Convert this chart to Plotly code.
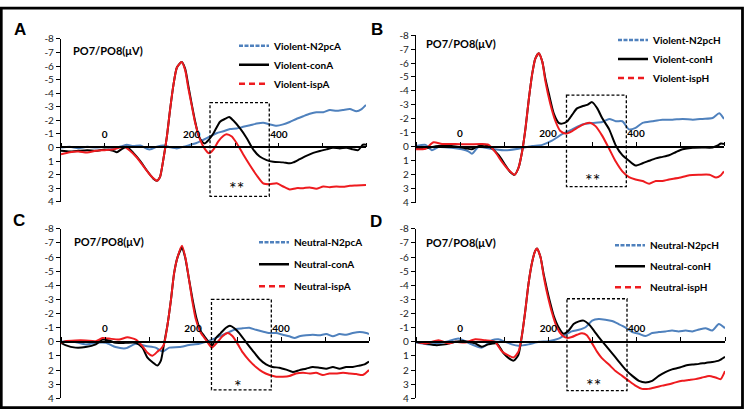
import plotly.graph_objects as go

# ---------------- data (time in ms, amplitude in µV) ----------------
x_tick_vals = [-100, 0, 100, 200, 300, 400, 500, 600]
x_tick_text = ["", "0", "", "200", "", "400", "", ""]
y_tick_vals = [-8, -7, -6, -5, -4, -3, -2, -1, 0, 1, 2, 3, 4]
y_tick_text = ["-8", "-7", "-6", "-5", "-4", "-3", "-2", "-1", "0", "1", "2", "3", "4"]

panel_letters = ["A", "B", "C", "D"]
legend_names = [
    ["Violent-N2pcA", "Violent-conA", "Violent-ispA"],
    ["Violent-N2pcH", "Violent-conH", "Violent-ispH"],
    ["Neutral-N2pcA", "Neutral-conA", "Neutral-ispA"],
    ["Neutral-N2pcH", "Neutral-conH", "Neutral-ispH"],
]
stars = ["**", "**", "*", "**"]
window_ms = [242, 378]

# Panel A
a_n2pc_t = [-100, -80, -60, -40, -20, 0, 20, 40, 51, 66, 82, 97, 105, 120, 135, 150, 166, 181, 197, 211, 227, 242, 257, 273, 288, 303, 318, 334, 349, 364, 379, 395, 410, 425, 440, 456, 471, 486, 502, 517, 532, 547, 563, 578, 590, 600]
a_n2pc_v = [0.0, -0.05, 0.05, -0.05, 0.0, -0.05, 0.05, -0.1, -0.2, -0.1, -0.15, 0.1, 0.14, -0.05, -0.15, -0.02, 0.07, -0.05, -0.2, -0.33, -0.57, -0.81, -1.05, -1.2, -1.36, -1.4, -1.52, -1.64, -1.76, -1.83, -1.7, -1.6, -1.7, -1.88, -2.1, -2.3, -2.48, -2.6, -2.6, -2.76, -2.7, -2.76, -2.83, -2.67, -2.83, -3.14]
a_con_t = [-100, -80, -60, -40, -20, 0, 20, 28, 40, 51, 66, 82, 97, 112, 120, 127, 135, 143, 150, 158, 166, 177, 185, 192, 200, 208, 215, 223, 230, 240, 250, 265, 276, 286, 295, 311, 326, 341, 356, 372, 387, 410, 425, 433, 448, 463, 479, 494, 509, 524, 540, 555, 570, 582, 593, 600]
a_con_v = [0.25, 0.3, 0.25, 0.2, 0.25, 0.15, 0.25, 0.35, 0.1, -0.05, 0.4, 1.0, 1.7, 2.3, 2.45, 2.2, 0.86, -0.8, -2.7, -4.6, -5.9, -6.3, -5.8, -4.6, -3.2, -1.9, -0.95, -0.45, -0.3, -0.6, -1.05, -1.9, -2.1, -2.24, -2.0, -1.4, -0.7, 0.14, 0.67, 0.93, 1.05, 1.1, 1.17, 1.1, 0.86, 0.62, 0.4, 0.26, 0.14, 0.02, 0.07, 0.02, 0.14, 0.2, -0.2, -0.2]
a_isp_t = [-100, -80, -60, -40, -20, 0, 21, 44, 59, 74, 89, 105, 120, 127, 135, 143, 150, 158, 166, 177, 185, 192, 200, 208, 219, 230, 240, 250, 261, 273, 280, 292, 303, 318, 334, 349, 364, 379, 395, 410, 425, 440, 456, 471, 486, 502, 517, 532, 547, 563, 578, 600]
a_isp_v = [0.5, 0.35, 0.3, 0.38, 0.25, 0.2, 0.14, -0.05, 0.26, 0.74, 1.38, 2.05, 2.45, 2.2, 0.86, -0.8, -2.7, -4.6, -5.9, -6.3, -5.7, -4.4, -3.1, -1.8, -0.6, 0.1, 0.43, 0.14, -0.45, -0.86, -0.98, -0.81, -0.33, 0.5, 1.33, 2.05, 2.64, 2.71, 2.64, 2.88, 3.1, 3.0, 3.0, 2.95, 3.05, 2.88, 2.93, 2.88, 2.9, 2.83, 2.8, 2.76]

# Panel B
b_n2pc_t = [-100, -78, -64, -49, -19, 4, 19, 27, 42, 72, 103, 133, 164, 187, 209, 232, 255, 278, 300, 323, 339, 354, 369, 384, 399, 415, 437, 460, 483, 506, 529, 551, 574, 589, 600]
b_n2pc_v = [-0.05, -0.14, 0.25, 0.02, 0.07, 0.18, 0.32, 0.5, 0.02, 0.14, 0.25, 0.14, -0.05, -0.14, -0.44, -0.9, -1.25, -1.6, -1.71, -1.78, -2.0, -1.83, -1.83, -1.25, -1.36, -1.71, -1.83, -1.94, -1.94, -2.0, -1.94, -2.0, -2.06, -2.4, -2.0]
b_con_t = [-100, -78, -49, -19, 12, 27, 42, 57, 72, 88, 103, 114, 124, 133, 141, 149, 156, 164, 171, 179, 187, 194, 202, 213, 225, 232, 244, 255, 266, 278, 289, 300, 312, 323, 339, 354, 369, 384, 399, 415, 430, 445, 460, 475, 491, 506, 529, 551, 574, 586, 593, 600]
b_con_v = [0.14, 0.1, -0.05, -0.05, 0.1, 0.18, -0.05, -0.14, 0.1, 0.6, 1.3, 1.8, 2.0, 1.5, 0.37, -1.36, -3.3, -5.2, -6.3, -6.7, -6.1, -4.9, -3.8, -2.4, -1.7, -1.66, -1.83, -2.3, -2.75, -2.9, -3.0, -3.2, -2.75, -2.06, -1.25, -0.1, 0.6, 1.0, 1.34, 1.18, 1.0, 0.83, 0.72, 0.6, 0.37, 0.18, 0.07, 0.05, 0.05, -0.1, -0.23, -0.2]
b_isp_t = [-100, -79, -60, -41, -11, 19, 50, 65, 80, 95, 110, 124, 133, 141, 149, 156, 164, 171, 179, 187, 194, 205, 217, 228, 240, 255, 270, 285, 297, 308, 323, 339, 354, 369, 384, 399, 415, 430, 445, 460, 475, 498, 521, 544, 567, 582, 593, 600]
b_isp_v = [0.18, 0.14, -0.32, -0.2, -0.2, -0.18, -0.2, -0.14, 0.37, 1.06, 1.64, 2.0, 1.5, 0.37, -1.36, -3.3, -5.2, -6.3, -6.7, -6.1, -4.7, -3.1, -1.83, -1.13, -0.95, -1.13, -1.43, -1.66, -1.71, -1.48, -0.8, 0.14, 1.06, 1.76, 2.17, 2.34, 2.45, 2.64, 2.45, 2.45, 2.34, 2.22, 2.03, 2.0, 2.0, 2.2, 2.03, 1.76]

# Panel C
c_n2pc_t = [-100, -75, -44, -21, 2, 24, 47, 70, 93, 115, 131, 146, 169, 191, 214, 237, 260, 282, 298, 313, 328, 343, 358, 374, 389, 404, 419, 431, 442, 457, 472, 487, 503, 518, 533, 548, 563, 579, 594, 600]
c_n2pc_v = [0.0, -0.05, 0.18, 0.07, 0.07, 0.37, 0.46, 0.14, 0.3, 0.41, 0.69, 0.41, 0.37, 0.23, 0.14, -0.09, -0.39, -0.69, -0.91, -0.96, -1.0, -0.85, -0.73, -0.62, -0.62, -0.5, -0.39, -0.27, -0.39, -0.46, -0.5, -0.46, -0.55, -0.39, -0.55, -0.5, -0.62, -0.69, -0.62, -0.55]
c_con_t = [-100, -90, -67, -44, -21, -6, 9, 24, 47, 70, 85, 96, 108, 119, 127, 134, 142, 150, 157, 165, 175, 182, 190, 199, 208, 218, 229, 243, 252, 263, 275, 284, 294, 305, 320, 336, 351, 366, 381, 396, 412, 427, 442, 457, 472, 487, 503, 518, 533, 548, 563, 579, 590, 600]
c_con_v = [0.07, 0.23, 0.41, 0.37, 0.18, -0.16, -0.1, 0.07, 0.07, 0.07, 0.41, 1.1, 1.44, 1.67, 1.33, 0.18, -1.19, -3.0, -4.85, -6.0, -6.67, -6.0, -4.6, -3.0, -1.65, -0.73, -0.27, 0.3, -0.27, -0.62, -1.0, -1.14, -0.96, -0.62, 0.0, 0.64, 1.21, 1.6, 1.78, 1.83, 1.97, 2.13, 2.0, 1.9, 1.78, 1.83, 1.9, 1.78, 1.9, 1.78, 1.78, 1.67, 1.6, 1.4]
c_isp_t = [-100, -90, -67, -44, -21, -6, 9, 32, 51, 70, 85, 96, 108, 121, 127, 134, 142, 150, 157, 165, 175, 184, 191, 199, 206, 218, 229, 243, 256, 267, 279, 290, 302, 313, 328, 343, 358, 374, 389, 404, 419, 434, 450, 465, 480, 495, 510, 525, 541, 556, 571, 586, 600]
c_isp_v = [0.07, -0.05, -0.1, -0.1, -0.05, -0.27, -0.23, -0.16, -0.32, -0.16, 0.3, 0.75, 0.98, 0.64, 0.5, 0.18, -1.19, -3.0, -4.85, -6.0, -6.8, -5.76, -4.4, -2.79, -1.65, -0.62, -0.16, 0.41, 0.0, -0.39, -0.62, -0.39, 0.18, 0.75, 1.33, 1.78, 2.13, 2.35, 2.47, 2.47, 2.42, 2.24, 2.19, 2.24, 2.19, 2.35, 2.24, 2.24, 2.19, 2.24, 2.28, 2.35, 2.0]

# Panel D
d_n2pc_t = [-100, -72, -49, -26, -4, 11, 26, 49, 72, 87, 102, 117, 132, 155, 178, 200, 223, 238, 253, 269, 284, 299, 314, 329, 344, 359, 374, 390, 405, 420, 435, 450, 465, 480, 495, 511, 526, 541, 556, 571, 586, 600]
d_n2pc_v = [0.05, 0.18, 0.11, -0.05, -0.23, -0.05, 0.18, 0.41, -0.11, -0.18, 0.0, 0.18, 0.28, 0.18, 0.0, -0.05, -0.23, -0.5, -0.74, -0.85, -1.03, -1.5, -1.61, -1.56, -1.47, -1.26, -1.03, -0.69, -0.57, -0.41, -0.62, -0.69, -0.74, -0.8, -0.74, -0.8, -0.74, -0.87, -0.97, -0.8, -1.26, -0.97]
d_con_t = [-100, -79, -57, -34, -11, 11, 34, 49, 64, 83, 98, 110, 121, 132, 140, 148, 155, 163, 170, 174, 182, 189, 197, 204, 212, 223, 234, 246, 257, 269, 280, 291, 303, 314, 329, 344, 359, 374, 390, 405, 420, 435, 450, 465, 480, 495, 511, 526, 541, 556, 571, 586, 600]
d_con_v = [0.0, 0.11, 0.23, 0.18, 0.0, -0.05, 0.11, 0.34, 0.18, 0.11, 0.8, 1.15, 1.33, 0.92, -0.46, -2.3, -4.14, -5.63, -6.44, -6.6, -6.0, -4.83, -3.68, -2.76, -1.84, -1.03, -0.57, -0.8, -1.26, -1.45, -1.5, -1.26, -0.8, -0.34, 0.23, 0.8, 1.38, 1.95, 2.41, 2.76, 2.87, 2.76, 2.41, 2.14, 1.95, 1.84, 1.68, 1.61, 1.56, 1.49, 1.43, 1.33, 1.06]
d_isp_t = [-100, -79, -49, -26, -11, 11, 34, 57, 79, 95, 110, 121, 132, 140, 148, 155, 163, 170, 174, 182, 189, 197, 208, 219, 231, 242, 253, 265, 276, 287, 299, 310, 321, 337, 352, 367, 382, 397, 412, 427, 443, 458, 473, 488, 503, 518, 533, 548, 564, 579, 590, 600]
d_isp_v = [0.0, 0.11, -0.11, 0.11, 0.0, 0.05, -0.18, -0.11, 0.0, 0.69, 0.97, 1.1, 0.7, -0.46, -2.3, -4.14, -5.63, -6.44, -6.6, -6.0, -4.7, -3.45, -2.07, -1.03, -0.46, -0.28, -0.34, -0.5, -0.6, -0.46, 0.11, 0.69, 1.15, 1.61, 2.07, 2.41, 2.76, 3.1, 3.33, 3.33, 3.22, 3.1, 3.0, 2.87, 2.76, 2.7, 2.64, 2.53, 2.41, 2.53, 2.64, 2.07]

panels_data = [
    [(a_n2pc_t, a_n2pc_v), (a_con_t, a_con_v), (a_isp_t, a_isp_v)],
    [(b_n2pc_t, b_n2pc_v), (b_con_t, b_con_v), (b_isp_t, b_isp_v)],
    [(c_n2pc_t, c_n2pc_v), (c_con_t, c_con_v), (c_isp_t, c_isp_v)],
    [(d_n2pc_t, d_n2pc_v), (d_con_t, d_con_v), (d_isp_t, d_isp_v)],
]

# ---------------- layout / style ----------------
W, H = 744, 415
# pixel boxes of each panel's plot area: (left, right, top, bottom)
panel_px = [(61, 366, 33, 201), (416, 724, 29, 202), (61, 369, 229, 404), (416, 725, 229, 404)]
box_y = [(-3.3, 3.6), (-3.7, 2.85), (-3.0, 3.4), (-3.05, 3.45)]
star_y = [3.0, 2.4, 3.1, 3.05]
letter_px = [(20, 23), (377, 23), (19, 220), (376, 221)]
title_px = [(71, 45), (424, 38), (72, 242), (424, 243)]
legend_px = [(234, 25), (613, 19), (254, 228), (610, 231)]
legend_gap = [0, 0, 3, 2]

colors = ["#4F81BD", "#000000", "#EE1B1F"]
legend_dash = ["4px,1.5px", "solid", "6px,4px"]
y_range = [4, -8]

TXT = "Lato"
fig = go.Figure()
layout = dict(width=W, height=H, margin=dict(l=0, r=0, t=0, b=0),
              paper_bgcolor="white", plot_bgcolor="rgba(0,0,0,0)", showlegend=True)
annotations = []
shapes = []

for i in range(4):
    n = "" if i == 0 else str(i + 1)
    L, R, T, B = panel_px[i]
    xd = [L / W, R / W]
    yd = [1 - B / H, 1 - T / H]
    zero_pos = yd[0] + (y_range[0] - 0) / (y_range[0] - y_range[1]) * (yd[1] - yd[0])
    layout["xaxis" + n] = dict(domain=xd, range=[-100, 600], anchor="free", position=zero_pos,
                               side="top", showline=True, linecolor="black", linewidth=1.5,
                               ticks="outside", ticklen=4, tickwidth=1.2, tickcolor="black",
                               tickvals=x_tick_vals, ticktext=x_tick_text, showgrid=False,
                               zeroline=False, tickfont=dict(family=TXT, size=10, color="black", weight="bold"),
                               ticklabelstandoff=1)
    layout["yaxis" + n] = dict(domain=yd, range=y_range, anchor="x" + n, showline=True,
                               linecolor="black", linewidth=1.2, ticks="outside", ticklen=4,
                               tickwidth=1.2, tickcolor="black", tickvals=y_tick_vals,
                               ticktext=y_tick_text, showgrid=False, zeroline=False,
                               tickfont=dict(family=TXT, size=10, color="#222"))
    leg = "legend" + n
    layout[leg] = dict(x=legend_px[i][0] / W, y=1 - legend_px[i][1] / H, xanchor="left", yanchor="top",
                       bgcolor="rgba(0,0,0,0)", font=dict(family=TXT, size=10, color="black", weight="bold"),
                       itemwidth=30, traceorder="grouped", tracegroupgap=legend_gap[i])
    # data curves (solid)
    for k in range(3):
        t, v = panels_data[i][k]
        fig.add_trace(go.Scatter(x=t, y=v, mode="lines", xaxis="x" + n, yaxis="y" + n,
                                 line=dict(color=colors[k], width=2, shape="spline", smoothing=0.6),
                                 showlegend=False, hoverinfo="skip"))
    # legend entries (dashed keys as in the reference)
    for k in range(3):
        fig.add_trace(go.Scatter(x=[None], y=[None], mode="lines", xaxis="x" + n, yaxis="y" + n,
                                 name=legend_names[i][k], legend=leg, legendgroup=f"g{i}{k}",
                                 line=dict(color=colors[k], width=2.5, dash=legend_dash[k])))
    # dashed analysis window
    shapes.append(dict(type="rect", xref="x" + n, yref="y" + n, x0=window_ms[0], x1=window_ms[1],
                       y0=box_y[i][0], y1=box_y[i][1], line=dict(color="black", width=1.3, dash="3px,2px")))
    annotations.append(dict(xref="x" + n, yref="y" + n, x=sum(window_ms) / 2 - 8, y=star_y[i],
                            text=stars[i], showarrow=False, font=dict(family=TXT, size=18, color="black")))
    annotations.append(dict(xref="paper", yref="paper", x=letter_px[i][0] / W, y=1 - letter_px[i][1] / H,
                            text=panel_letters[i], showarrow=False, xanchor="center", yanchor="middle",
                            font=dict(family="Liberation Sans", size=17, color="black", weight="bold")))
    annotations.append(dict(xref="paper", yref="paper", x=title_px[i][0] / W, y=1 - title_px[i][1] / H,
                            text="PO7/PO8(μV)", showarrow=False, xanchor="left", yanchor="middle",
                            font=dict(family=TXT, size=11, color="black", weight="bold")))

shapes.append(dict(type="rect", xref="paper", yref="paper", x0=1.25 / W, x1=1 - 1.5 / W,
                   y0=1.5 / H, y1=1 - 1.25 / H, line=dict(color="black", width=2.8)))
layout["annotations"] = annotations
layout["shapes"] = shapes
fig.update_layout(**layout)
fig.write_html("out.html", config={"displayModeBar": False},
               post_script="document.body.style.margin='0px'; document.body.style.overflow='hidden';")
